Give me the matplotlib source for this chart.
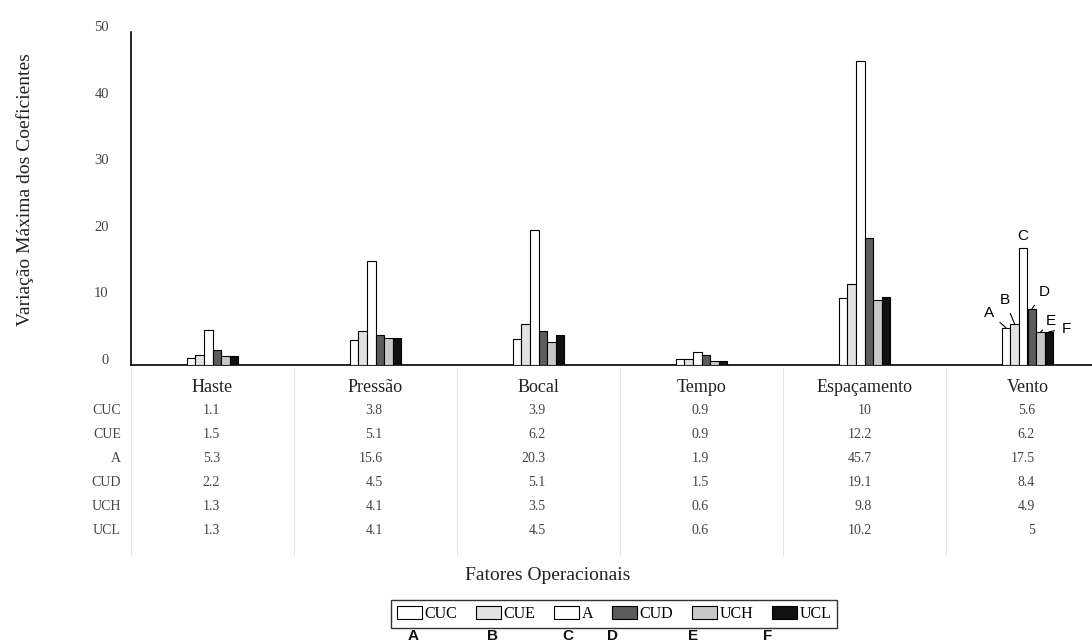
import matplotlib
matplotlib.use("Agg")
import numpy as np
import matplotlib.pyplot as plt
from matplotlib.lines import Line2D
from matplotlib.transforms import blended_transform_factory, ScaledTranslation

# data
categories = ["Haste", "Pressão", "Bocal", "Tempo", "Espaçamento", "Vento"]
series_names = ["CUC", "CUE", "A", "CUD", "UCH", "UCL"]
cuc = [1.1, 3.8, 3.9, 0.9, 10, 5.6]
cue = [1.5, 5.1, 6.2, 0.9, 12.2, 6.2]
a_vals = [5.3, 15.6, 20.3, 1.9, 45.7, 17.5]
cud = [2.2, 4.5, 5.1, 1.5, 19.1, 8.4]
uch = [1.3, 4.1, 3.5, 0.6, 9.8, 4.9]
ucl = [1.3, 4.1, 4.5, 0.6, 10.2, 5]
table_text = [["1.1", "3.8", "3.9", "0.9", "10", "5.6"],
              ["1.5", "5.1", "6.2", "0.9", "12.2", "6.2"],
              ["5.3", "15.6", "20.3", "1.9", "45.7", "17.5"],
              ["2.2", "4.5", "5.1", "1.5", "19.1", "8.4"],
              ["1.3", "4.1", "3.5", "0.6", "9.8", "4.9"],
              ["1.3", "4.1", "4.5", "0.6", "10.2", "5"]]
marker_letters = ["A", "B", "C", "D", "E", "F"]

series = [cuc, cue, a_vals, cud, uch, ucl]
fills = ["#ffffff", "#e2e2e2", "#ffffff", "#5c5c5c", "#c8c8c8", "#111111"]

W, H = 1092, 641
SERIF = "Liberation Serif"
SANS = "Liberation Sans"

fig = plt.figure(figsize=(W / 100, H / 100), dpi=100)
ax = fig.add_axes([131 / W, 1 - 365 / H, 6 * 163 / W, (365 - 32) / H])
ax.set_xlim(-0.5, 5.5)
ax.set_ylim(0, 50)

x = np.arange(len(categories))
bw = 0.053
bars = []
for j, (vals, fc) in enumerate(zip(series, fills)):
    b = ax.bar(x + (j - 2.5) * bw, vals, width=bw, color=fc,
               edgecolor="black", linewidth=0.8, label=series_names[j], zorder=3)
    bars.append(b)

for s in ["top", "right"]:
    ax.spines[s].set_visible(False)
ax.spines["left"].set_linewidth(1.2)
ax.spines["bottom"].set_linewidth(1.2)
ax.spines["bottom"].set_clip_on(False)

ax.set_xticks([])
ax.set_yticks([0, 10, 20, 30, 40, 50])
ax.tick_params(axis="y", length=0, pad=16, labelsize=10.5, labelcolor="#444444")
for lab in ax.get_yticklabels():
    lab.set_fontfamily(SERIF)
    lab.set_transform(lab.get_transform() + ScaledTranslation(0, 0.06, fig.dpi_scale_trans))

# labels A-F on the Vento bars
offsets = [(-17, 15), (-10, 24), (0, 12), (12, 17), (10, 11), (17, 3)]
for j, (dx, dy) in enumerate(offsets):
    bx = x[5] + (j - 2.5) * bw
    props = None if j == 2 else dict(arrowstyle="-", lw=0.8, color="black",
                                      shrinkA=3, shrinkB=0)
    ax.annotate(marker_letters[j], xy=(bx, series[j][5]), xytext=(dx, dy),
                textcoords="offset pixels", ha="center", va="center",
                fontsize=11, family=SANS, arrowprops=props, zorder=5)

# data table under the axis
blend = blended_transform_factory(ax.transData, fig.transFigure)
for xb in np.arange(-0.5, 5.0, 1.0):
    fig.add_artist(Line2D([xb, xb], [1 - 368 / H, 1 - 555 / H], transform=blend,
                          color="#e4e4e4", lw=0.8))

for i, cat in enumerate(categories):
    ax.text(x[i], 1 - 387 / H, cat, transform=blend, ha="center", va="center",
            fontsize=13, family=SERIF, color="#222222")

row_y = [410, 434, 458, 483, 507, 531]
for r, name in enumerate(series_names):
    fig.text(121 / W, 1 - row_y[r] / H, name, ha="right", va="center",
             fontsize=10, family=SERIF, color="#444444")
    for i in range(len(categories)):
        ax.text(x[i] + 0.045, 1 - row_y[r] / H, table_text[r][i], transform=blend,
                ha="right", va="center", fontsize=10, family=SERIF, color="#444444")

fig.text(25 / W, 1 - 190 / H, "Variação Máxima dos Coeficientes", rotation=90,
         ha="center", va="center", fontsize=14, family=SERIF, color="#222222")
fig.text(548 / W, 1 - 576 / H, "Fatores Operacionais", ha="center", va="center",
         fontsize=14, family=SERIF, color="#222222")

leg = fig.legend(handles=bars, labels=series_names, loc="center",
                 bbox_to_anchor=(614 / W, 1 - 614 / H), ncol=6, frameon=True,
                 fancybox=False, edgecolor="black", handlelength=1.6,
                 handleheight=0.8, handletextpad=0.15, columnspacing=1.15,
                 borderpad=0.35, prop={"family": SERIF, "size": 11.5})
leg.get_frame().set_linewidth(1.0)

# letters under the legend entries (cut by the bottom edge in the scan)
letter_x = [413, 492, 568, 613, 693, 768]
for lx, lt in zip(letter_x, marker_letters):
    fig.text(lx / W, 1 - 640 / H, lt, ha="center", va="baseline", fontsize=11,
             family=SANS, weight="bold", color="#111111")

fig.savefig("out.png", dpi=100)
